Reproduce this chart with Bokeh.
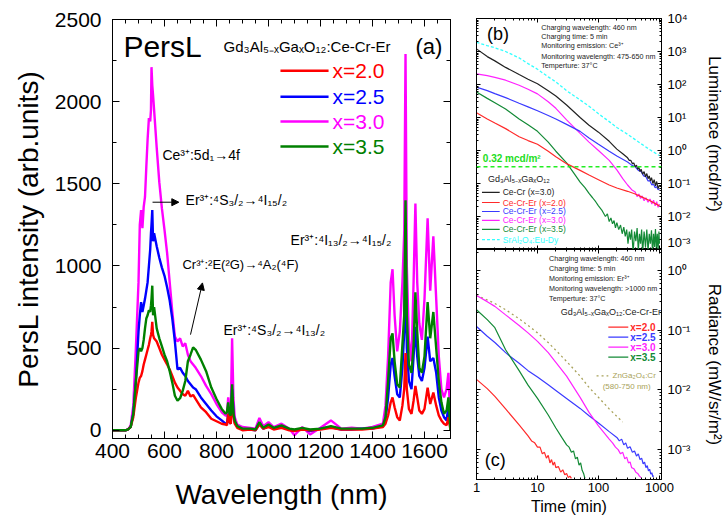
from bokeh.plotting import figure
from bokeh.layouts import row, column
from bokeh.models import (LinearAxis, LogAxis, FixedTicker, CustomJSTickFormatter, Arrow,
                          NormalHead, Span, ColumnDataSource, Range1d)
from bokeh.core.properties import value
from bokeh.embed import file_html
from bokeh.resources import INLINE

FONT = "Liberation Sans"

# ---------------- panel (a) data ----------------
wl = [400, 450, 460, 470, 480, 490, 500, 505, 510, 515,
      520, 525, 530, 535, 540, 545, 548, 550, 553, 556,
      560, 570, 580, 590, 600, 610, 620, 630, 640, 650,
      660, 670, 680, 690, 700, 710, 720, 740, 760, 780,
      800, 820, 835, 840, 845, 850, 855, 860, 865, 870,
      880, 900, 930, 950, 965, 980, 1000, 1020, 1050, 1080,
      1100, 1130, 1160, 1200, 1240, 1280, 1320, 1360, 1400, 1440,
      1450, 1460, 1470, 1477, 1485, 1495, 1505, 1515, 1522, 1527,
      1532, 1540, 1550, 1558, 1565, 1572, 1580, 1590, 1600, 1612,
      1622, 1634, 1645, 1655, 1665, 1675, 1685, 1692, 1700]
spec_x20 = [0, 0, 5, 20, 80, 200, 290, 320, 330, 360,
            400, 430, 460, 490, 520, 560, 580, 600, 660, 580,
            560, 540, 500, 460, 430, 400, 370, 330, 290, 260,
            240, 220, 210, 240, 205, 215, 190, 140, 110, 70,
            55, 40, 35, 30, 100, 50, 40, 200, 90, 40,
            15, 0, 5, 0, 35, 10, 20, 5, 15, 0,
            -5, 5, 0, 5, 15, 5, 5, 5, 10, 20,
            40, 90, 170, 200, 140, 80, 60, 150, 250, 470,
            250, 130, 100, 180, 270, 200, 120, 100, 130, 260,
            160, 230, 150, 90, 60, 40, 30, 80, 0]
spec_x25 = [0, 0, 5, 20, 100, 300, 600, 700, 780, 720,
            760, 800, 850, 900, 1000, 1100, 1200, 1250, 1340, 1150,
            1200, 1120, 1050, 990, 940, 870, 790, 680, 540, 370,
            380, 350, 330, 300, 280, 260, 250, 200, 160, 120,
            85, 60, 40, 35, 100, 50, 40, 250, 120, 50,
            20, 5, 5, 0, 40, 10, 25, 10, 20, 5,
            0, 10, -5, 10, 20, 5, 5, 10, 10, 25,
            60, 200, 400, 440, 330, 220, 200, 380, 600, 1100,
            500, 300, 250, 450, 630, 450, 330, 300, 380, 570,
            420, 440, 350, 200, 120, 80, 60, 150, 0]
spec_x30 = [0, 0, 5, 30, 150, 500, 900, 1250, 1340, 1230,
            1360, 1420, 1600, 1770, 1900, 1880, 1950, 2210, 2100, 2040,
            1950, 1720, 1510, 1350, 1220, 1080, 900, 720, 570, 540,
            560, 510, 530, 460, 420, 400, 380, 330, 270, 220,
            160, 110, 90, 90, 200, 100, 120, 560, 200, 80,
            35, 20, 15, 10, 75, 25, 50, 20, 40, 10,
            -30, 20, -25, 15, 60, 10, 15, 10, 20, 40,
            150, 450, 900, 980, 700, 480, 600, 900, 1200, 2290,
            1000, 550, 420, 900, 1380, 900, 650, 550, 800, 1290,
            850, 1180, 800, 450, 250, 200, 250, 350, 30]
spec_x35 = [0, 0, 5, 20, 100, 300, 480, 500, 480, 500,
            550, 620, 680, 700, 730, 720, 760, 800, 880, 700,
            750, 620, 560, 510, 460, 420, 360, 290, 210, 180,
            195, 240, 300, 420, 460, 505, 490, 430, 360, 260,
            190, 130, 100, 110, 170, 100, 90, 280, 100, 60,
            25, 10, 10, 5, 50, 15, 35, 15, 30, 10,
            5, 15, 5, 10, 25, 10, 10, 10, 15, 30,
            80, 300, 560, 590, 420, 280, 260, 520, 700, 1400,
            700, 400, 350, 520, 840, 600, 380, 350, 450, 780,
            560, 720, 500, 300, 170, 100, 120, 200, 0]
a_labels = ["x=2.0", "x=2.5", "x=3.0", "x=3.5"]
a_colors = ["#ff0000", "#0000ff", "#ff00ff", "#008000"]
a_xticks = [400, 600, 800, 1000, 1200, 1400, 1600]
a_yticks = [0, 500, 1000, 1500, 2000, 2500]

# ---------------- panel (b) data: luminance (mcd/m2) vs time (min) ----------------
b_t_cecr = [1, 1.5, 2, 3, 5, 7, 10, 15, 20, 30, 50, 70, 100, 150, 200, 250, 300,
            320, 340, 360, 380, 400, 420, 440, 460, 480, 500, 530, 560, 590, 620,
            650, 680, 710, 740, 780, 820, 860, 900, 950, 1000]
b_cecr = [1200, 700, 520, 330, 200, 145, 105, 65, 45, 24, 10, 5.8, 3.6, 1.9, 1.1, 0.8, 0.6,
          0.5, 0.5, 0.4, 0.42, 0.32, 0.36, 0.27, 0.31, 0.23, 0.27, 0.19, 0.23, 0.16, 0.2,
          0.14, 0.17, 0.12, 0.15, 0.1, 0.13, 0.085, 0.115, 0.07, 0.09]
b_t_x20 = [1, 1.5, 2, 3, 5, 7, 10, 15, 20, 30, 50, 70, 100, 150, 200, 300, 400, 500, 700, 1000]
b_x20 = [14, 9, 6.8, 4.6, 2.6, 2.0, 1.55, 0.95, 0.65, 0.4, 0.25, 0.18, 0.13, 0.09, 0.073,
         0.058, 0.048, 0.04, 0.03, 0.021]
b_t_x25 = [1, 1.5, 2, 3, 5, 7, 10, 15, 20, 30, 50, 70, 100, 150, 200, 300, 350, 400, 450,
           500, 550, 600, 650, 700, 750, 800, 850, 900, 950, 1000]
b_x25 = [83, 65, 53, 40, 27, 21, 16, 11.5, 9, 6.2, 3.8, 2.4, 1.55, 0.95, 0.68, 0.45, 0.36,
         0.32, 0.25, 0.23, 0.17, 0.16, 0.12, 0.12, 0.09, 0.095, 0.075, 0.08, 0.065, 0.07]
b_t_x30 = [1, 1.5, 2, 3, 5, 7, 10, 15, 20, 30, 50, 70, 100, 150, 200, 250, 300, 350, 400,
           430, 460, 490, 520, 560, 600, 650, 700, 750, 800, 850, 900, 950, 1000]
b_x30 = [210, 185, 165, 135, 95, 72, 52, 30, 19, 8.5, 3.3, 1.8, 1.0, 0.5, 0.26, 0.14, 0.09,
         0.065, 0.055, 0.04, 0.048, 0.035, 0.042, 0.03, 0.037, 0.027, 0.034, 0.024, 0.031,
         0.021, 0.028, 0.019, 0.024]
b_t_x35 = [1, 1.5, 2, 3, 5, 7, 10, 15, 20, 30, 40, 50, 60, 70, 80, 90, 100, 115, 130,
           140, 150, 160, 170, 180, 190, 200, 215, 230, 245, 260, 275, 290, 305, 320, 335,
           350, 370, 390, 410, 430, 450, 470, 490, 510, 530, 560, 590, 620, 650, 680, 710,
           740, 770, 800, 830, 860, 890, 920, 950, 980, 1000]
b_x35 = [59, 38, 28, 18, 9, 6, 3.8, 1.8, 0.95, 0.42, 0.2, 0.11, 0.075, 0.05, 0.037, 0.028,
         0.021, 0.015, 0.01, 0.012, 0.007, 0.009, 0.006, 0.0075, 0.0045, 0.0065, 0.004,
         0.0055, 0.003, 0.0048, 0.0025, 0.004, 0.0015, 0.0035, 0.002, 0.004, 0.0008, 0.0035,
         0.0018, 0.0045, 0.0009, 0.003, 0.0015, 0.004, 0.0008, 0.0035, 0.0012, 0.004, 0.0009,
         0.003, 0.0015, 0.0038, 0.0008, 0.003, 0.0012, 0.0042, 0.001, 0.003, 0.0009, 0.0035,
         0.0015]
b_t_sao = [1, 1.5, 2, 3, 5, 7, 10, 15, 20, 30, 50, 70, 100, 150, 200, 300, 500, 700, 1000]
b_sao = [1900, 1500, 1300, 1000, 640, 430, 290, 170, 120, 65, 34, 22, 13, 7.5, 5, 3.1, 1.6,
         1.05, 0.7]
b_threshold = 0.32
b_labels = ["Ce-Cr (x=3.0)", "Ce-Cr-Er (x=2.0)", "Ce-Cr-Er (x=2.5)", "Ce-Cr-Er (x=3.0)",
            "Ce-Cr-Er (x=3.5)", "SrAl\u2082O\u2084:Eu-Dy"]
b_colors = ["#222222", "#ff2a2a", "#3a3aff", "#ff22ff", "#138a36", "#33ffff"]

# ---------------- panel (c) data: radiance (mW/sr/m2) vs time (min) ----------------
c_t_x20 = [1, 1.5, 2, 3, 5, 7, 8, 9, 10, 11, 12, 13, 14, 15, 16, 17, 18, 19, 20, 22, 24,
           26, 28, 30, 32, 34, 36]
c_x20 = [0.015, 0.0105, 0.0078, 0.0048, 0.0026, 0.0017, 0.0014, 0.0013, 0.0011, 0.0011,
         0.00085, 0.0009, 0.00072, 0.0008, 0.0006, 0.00068, 0.00055, 0.00062, 0.0005,
         0.00052, 0.00042, 0.00046, 0.00038, 0.0004, 0.00034, 0.00036, 0.00033]
c_t_x25 = [1, 1.5, 2, 3, 3.5, 5, 7, 10, 15, 20, 30, 50, 70, 100, 150, 200, 220, 240, 260,
           280, 300, 330, 360, 390, 420, 450, 480, 510, 540, 570, 600, 630, 660, 690, 720,
           750, 780, 800]
c_x25 = [0.115, 0.079, 0.062, 0.042, 0.037, 0.028, 0.021, 0.0165, 0.0122, 0.0098, 0.0072,
         0.0049, 0.0037, 0.0028, 0.002, 0.0016, 0.0014, 0.0015, 0.0012, 0.0013, 0.00105,
         0.00112, 0.0009, 0.00095, 0.00078, 0.00085, 0.00068, 0.00072, 0.00058, 0.00062,
         0.0005, 0.00054, 0.00044, 0.00047, 0.00039, 0.00041, 0.00035, 0.00037]
c_t_x30 = [1, 1.5, 2, 3, 5, 7, 10, 15, 20, 30, 50, 70, 100, 150, 170, 190, 210, 230, 250,
           270, 290, 310, 330, 350, 380, 410, 440, 470, 500]
c_x30 = [0.38, 0.3, 0.25, 0.18, 0.12, 0.09, 0.065, 0.042, 0.029, 0.017, 0.0075, 0.0042,
         0.0025, 0.0015, 0.0013, 0.0011, 0.001, 0.00085, 0.0009, 0.0007, 0.00075, 0.0006,
         0.00062, 0.0005, 0.00048, 0.00042, 0.0004, 0.00036, 0.00034]
c_t_x35 = [1, 1.5, 2, 3, 5, 7, 10, 15, 20, 25, 30, 33, 36, 39, 42, 45, 48, 51, 54, 57, 60]
c_x35 = [0.22, 0.15, 0.11, 0.047, 0.021, 0.012, 0.0072, 0.0038, 0.0023, 0.0016, 0.0012,
         0.0011, 0.0009, 0.00095, 0.0007, 0.00075, 0.00055, 0.0006, 0.00045, 0.0004, 0.00033]
c_t_zgo = [1, 1.5, 2, 3, 5, 7, 10, 15, 20, 30, 50, 70, 100, 150, 200, 250]
c_zgo = [0.38, 0.32, 0.28, 0.22, 0.155, 0.12, 0.09, 0.062, 0.046, 0.03, 0.017, 0.011, 0.0075,
         0.0048, 0.0036, 0.0029]
c_labels = ["x=2.0", "x=2.5", "x=3.0", "x=3.5"]
c_colors = ["#ff2a2a", "#3a3aff", "#ff22ff", "#138a36"]
c_olive = "#a8a25a"

log_xticks = [1, 10, 100, 1000]

empty_fmt = CustomJSTickFormatter(code="return '';")


def style(ax, labels=True, size="21px", tin=7, tmin=4, standoff=6):
    ax.major_tick_in = tin
    ax.major_tick_out = 0
    ax.minor_tick_in = tmin
    ax.minor_tick_out = 0
    ax.axis_line_color = "black"
    ax.major_tick_line_color = "black"
    ax.minor_tick_line_color = "black"
    ax.major_label_text_font = FONT
    ax.major_label_text_color = "black"
    ax.axis_label_text_font = FONT
    ax.axis_label_text_font_style = "normal"
    ax.axis_label_text_color = "black"
    if labels:
        ax.major_label_text_font_size = size
        ax.major_label_standoff = standoff
    else:
        ax.formatter = empty_fmt
        ax.major_label_text_font_size = "1px"
        ax.major_label_standoff = 0


def txt(p, x, y, s, size, color="black", style_="normal", align="left"):
    src = ColumnDataSource(dict(x=[x], y=[y], t=[s]))
    p.text(x="x", y="y", text="t", source=src, text_font=value(FONT), text_font_size=size,
           text_color=color, text_baseline="middle", text_align=align, text_font_style=style_)


# ================= panel (a) =================
pa = figure(width=470, height=517, x_range=Range1d(400, 1700), y_range=Range1d(-50, 2500),
            min_border_left=112, min_border_right=20, min_border_top=19, min_border_bottom=79,
            output_backend="svg", toolbar_location=None)
pa.xgrid.visible = False
pa.ygrid.visible = False
pa.outline_line_color = "black"
pa.background_fill_color = "white"
pa.border_fill_color = "white"

xt = FixedTicker(ticks=a_xticks, minor_ticks=list(range(400, 1701, 50)))
yt = FixedTicker(ticks=a_yticks, minor_ticks=list(range(0, 2501, 250)))
pa.xaxis.ticker = xt
pa.yaxis.ticker = yt
style(pa.xaxis[0], size="21px", standoff=5)
style(pa.yaxis[0], size="21px", standoff=11)
pa.xaxis.axis_label = "Wavelength (nm)"
pa.xaxis.axis_label_text_font_size = "28px"
pa.xaxis.axis_label_standoff = 18
pa.yaxis.axis_label = "PersL intensity (arb.units)"
pa.yaxis.axis_label_text_font_size = "28px"
pa.yaxis.axis_label_standoff = 8
top_a = LinearAxis(ticker=xt)
style(top_a, labels=False)
pa.add_layout(top_a, "above")
right_a = LinearAxis(ticker=yt)
style(right_a, labels=False)
pa.add_layout(right_a, "right")

spectra = [spec_x20, spec_x25, spec_x30, spec_x35]
for idx in [2, 1, 0, 3]:
    pa.line(wl, spectra[idx], line_color=a_colors[idx], line_width=2.4)

# legend of (a)
leg_y = [2188, 2030, 1879, 1727]
pa.segment(x0=[1046] * 4, y0=leg_y, x1=[1231] * 4, y1=leg_y, line_color=a_colors, line_width=2.4)
pa.text(x=[1246] * 4, y=leg_y, text=a_labels, text_color=a_colors, text_font=value(FONT),
        text_font_size="21px", text_baseline="middle")

txt(pa, 442, 2335, "PersL", "30px")
txt(pa, 827, 2335, "Gd\u2083Al\u2085\u208b\u2093Ga\u2093O\u2081\u2082:Ce-Cr-Er", "15px")
txt(pa, 1565, 2335, "(a)", "22px")
txt(pa, 592, 1673, "Ce\u00b3\u207a:5d\u2081\u21924f", "14px")
txt(pa, 681, 1400, "Er\u00b3\u207a:\u2074S\u2083/\u2082\u2192\u2074I\u2081\u2085/\u2082", "14px")
txt(pa, 1085, 1158, "Er\u00b3\u207a:\u2074I\u2081\u2083/\u2082\u2192\u2074I\u2081\u2085/\u2082", "14px")
txt(pa, 669, 1006, "Cr\u00b3\u207a:\u00b2E(\u00b2G)\u2192\u2074A\u2082(\u2074F)", "13px")
txt(pa, 827, 612, "Er\u00b3\u207a:\u2074S\u2083/\u2082\u2192\u2074I\u2081\u2083/\u2082", "14px")

pa.add_layout(Arrow(end=NormalHead(size=7, fill_color="black", line_color="black"),
                    x_start=554, y_start=1388, x_end=655, y_end=1388, line_width=1))
pa.add_layout(Arrow(end=NormalHead(size=7, fill_color="black", line_color="black"),
                    x_start=700, y_start=582, x_end=746, y_end=897, line_width=1))

# ================= shared log styling =================
sup_fmt = CustomJSTickFormatter(code=r"""
const s = {"-":"\u207b","0":"\u2070","1":"\u00b9","2":"\u00b2","3":"\u00b3","4":"\u2074",
           "5":"\u2075","6":"\u2076","7":"\u2077","8":"\u2078","9":"\u2079"};
const e = Math.round(Math.log10(tick));
return "10" + String(e).split("").map(c => s[c]).join("");
""")
plain_fmt = CustomJSTickFormatter(code="return String(Math.round(tick));")
lx_ticker = FixedTicker(ticks=log_xticks,
                        minor_ticks=[m * 10 ** k for k in range(0, 4) for m in range(2, 10)])
xr = Range1d(1, 1080)

# ================= panel (b) =================
pb = figure(width=257, height=249, x_axis_type="log", y_axis_type="log", x_range=xr,
            y_range=Range1d(1e-3, 1e4), y_axis_location="right",
            min_border_left=6, min_border_right=63, min_border_top=18, min_border_bottom=0,
            output_backend="svg", toolbar_location=None)
pb.xgrid.visible = False
pb.ygrid.visible = False
pb.outline_line_color = "black"
by_ticker = FixedTicker(ticks=[10.0 ** k for k in range(-3, 5)],
                        minor_ticks=[m * 10.0 ** k for k in range(-3, 4) for m in range(2, 10)])
pb.xaxis.ticker = lx_ticker
pb.yaxis.ticker = by_ticker
pb.yaxis.formatter = sup_fmt
style(pb.xaxis[0], labels=False, tin=4, tmin=2)
style(pb.yaxis[0], size="13px", tin=4, tmin=2, standoff=6)
pb.yaxis.axis_label = "Luminance (mcd/m\u00b2)"
pb.yaxis.axis_label_text_font_size = "17px"
pb.yaxis.axis_label_standoff = 12
for side in ["left", "above"]:
    ax = LogAxis(ticker=by_ticker if side == "left" else lx_ticker)
    style(ax, labels=False, tin=4, tmin=2)
    pb.add_layout(ax, side)

pb.add_layout(Span(location=b_threshold, dimension="width", line_color="#22ee22",
                   line_dash="4 3", line_width=1.5))
b_series = [(b_t_cecr, b_cecr), (b_t_x20, b_x20), (b_t_x25, b_x25), (b_t_x30, b_x30),
            (b_t_x35, b_x35)]
for idx in [4, 3, 2, 1, 0]:
    t, v = b_series[idx]
    pb.line(t, v, line_color=b_colors[idx], line_width=1.2)
pb.line(b_t_sao, b_sao, line_color=b_colors[5], line_width=1.3, line_dash="3 2")

b_info = ["Charging wavelength: 460 nm", "Charging time: 5 min",
          "Monitoring emission: Ce\u00b3\u207a", "Monitoring wavelength: 475-650 nm",
          "Temperture: 37\u00b0C"]
pb.text(x=[11.5] * 5, y=[5340, 2850, 1520, 707, 377], text=b_info, text_font=value(FONT),
        text_font_size="7.2px", text_color="#222222", text_baseline="middle")
txt(pb, 1.48, 3510, "(b)", "18px")
txt(pb, 1.27, 0.575, "0.32 mcd/m\u00b2", "10px", color="#22dd22", style_="bold")
txt(pb, 1.54, 0.141, "Gd\u2083Al\u2085\u208b\u2093Ga\u2093O\u2081\u2082", "9px", color="#222222")
b_leg_y = [10 ** -1.27, 10 ** -1.576, 10 ** -1.848, 10 ** -2.12, 10 ** -2.39, 10 ** -2.70]
pb.segment(x0=[1.23] * 5, y0=b_leg_y[:5], x1=[2.4] * 5, y1=b_leg_y[:5],
           line_color=b_colors[:5], line_width=1.2)
pb.segment(x0=[1.23], y0=b_leg_y[5:], x1=[2.4], y1=b_leg_y[5:], line_color=b_colors[5],
           line_width=1.3, line_dash="3 2")
pb.text(x=[2.69] * 6, y=b_leg_y, text=b_labels, text_color=b_colors, text_font=value(FONT),
        text_font_size="8.5px", text_baseline="middle")

# ================= panel (c) =================
pc = figure(width=257, height=268, x_axis_type="log", y_axis_type="log", x_range=xr,
            y_range=Range1d(10 ** -3.5, 10 ** 0.35), y_axis_location="right",
            min_border_left=6, min_border_right=63, min_border_top=0, min_border_bottom=37,
            output_backend="svg", toolbar_location=None)
pc.xgrid.visible = False
pc.ygrid.visible = False
pc.outline_line_color = "black"
cy_ticker = FixedTicker(ticks=[1e-3, 1e-2, 1e-1, 1.0],
                        minor_ticks=[m * 10.0 ** k for k in range(-4, 1) for m in range(2, 10)])
pc.xaxis.ticker = lx_ticker
pc.xaxis.formatter = plain_fmt
pc.yaxis.ticker = cy_ticker
pc.yaxis.formatter = sup_fmt
style(pc.xaxis[0], size="13px", tin=4, tmin=2, standoff=3)
style(pc.yaxis[0], size="13px", tin=4, tmin=2, standoff=6)
pc.xaxis.axis_label = "Time (min)"
pc.xaxis.axis_label_text_font_size = "16px"
pc.xaxis.axis_label_standoff = 3
pc.yaxis.axis_label = "Radiance (mW/sr/m\u00b2)"
pc.yaxis.axis_label_text_font_size = "17px"
pc.yaxis.axis_label_standoff = 12
for side in ["left", "above"]:
    ax = LogAxis(ticker=cy_ticker if side == "left" else lx_ticker)
    style(ax, labels=False, tin=4, tmin=2)
    pc.add_layout(ax, side)

pc.line(c_t_zgo, c_zgo, line_color=c_olive, line_width=1.3, line_dash="2 3")
c_series = [(c_t_x20, c_x20), (c_t_x25, c_x25), (c_t_x30, c_x30), (c_t_x35, c_x35)]
for idx in [0, 1, 2, 3]:
    t, v = c_series[idx]
    pc.line(t, v, line_color=c_colors[idx], line_width=1.2)

c_info = ["Charging wavelength: 460 nm", "Charging time: 5 min",
          "Monitoring emission: Er\u00b3\u207a", "Monitoring wavelength: >1000 nm",
          "Temperture: 37\u00b0C"]
pc.text(x=[15.5] * 5, y=[10 ** 0.2, 10 ** 0.033, 10 ** -0.133, 10 ** -0.3, 10 ** -0.467],
        text=c_info, text_font=value(FONT), text_font_size="7.2px", text_color="#222222",
        text_baseline="middle")
txt(pc, 24, 10 ** -0.7, "Gd\u2083Al\u2085\u208b\u2093Ga\u2093O\u2081\u2082:Ce-Cr-Er", "9px",
    color="#222222")
c_leg_y = [10 ** -0.95, 10 ** -1.117, 10 ** -1.283, 10 ** -1.45]
pc.segment(x0=[145] * 4, y0=c_leg_y, x1=[308] * 4, y1=c_leg_y, line_color=c_colors,
           line_width=1.2)
pc.text(x=[332] * 4, y=c_leg_y, text=c_labels, text_color=c_colors, text_font=value(FONT),
        text_font_size="10px", text_font_style="bold", text_baseline="middle")
pc.segment(x0=[93], y0=[10 ** -1.767], x1=[145], y1=[10 ** -1.767], line_color=c_olive,
           line_width=1.3, line_dash="2 3")
txt(pc, 170, 10 ** -1.767, "ZnGa\u2082O\u2084:Cr", "8px", color=c_olive)
txt(pc, 117, 10 ** -1.95, "(580-750 nm)", "8px", color=c_olive)
txt(pc, 1.37, 10 ** -3.17, "(c)", "18px")

layout = row(pa, column(pb, pc))
open("out.html", "w").write(file_html(layout, INLINE))
